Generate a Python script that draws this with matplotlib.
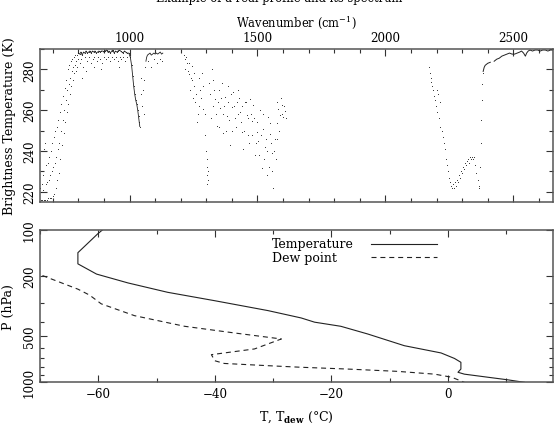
import matplotlib
matplotlib.use("Agg")
import matplotlib.pyplot as plt
from matplotlib.ticker import MultipleLocator, NullFormatter, FixedLocator

plt.rcParams['font.family'] = ['DejaVu Serif']
plt.rcParams['font.size'] = 9
plt.rcParams['mathtext.fontset'] = 'dejavuserif'

# ---- spectrum (brightness temperature vs wavenumber) ----
# CO2 band 650-800
wn_co2 = [650, 652, 654, 656, 658, 660, 662, 664, 666, 668, 670, 672, 674, 676, 678,
          680, 682, 684, 686, 688, 690, 692, 694, 696, 698, 700, 702, 704, 706, 708,
          710, 712, 714, 716, 718, 720, 722, 724, 726, 728, 730, 732, 734, 736, 738,
          740, 742, 744, 746, 748, 750, 752, 754, 756, 758, 760, 762, 764, 766, 768,
          770, 772, 774, 776, 778, 780, 782, 784, 786, 788, 790, 792, 794, 796, 798, 800]
tb_co2 = [222, 216, 220, 224, 216, 221, 228, 216, 241, 244, 216, 224, 233, 216, 225,
          234, 217, 226, 237, 217, 228, 240, 217, 230, 244, 218, 232, 247, 219, 234,
          250, 222, 237, 252, 226, 241, 255, 229, 244, 259, 236, 250, 263, 243, 255,
          267, 249, 260, 271, 254, 265, 275, 259, 270, 280, 263, 273, 282, 268, 276,
          284, 272, 279, 285, 275, 281, 286, 278, 282, 287, 279, 284, 287, 281, 285, 288]

# window + ozone band 800-1130 (continuous part)
wn_win = [800, 805, 810, 815, 820, 825, 830, 835, 840, 845, 850, 855, 860, 865, 870,
          875, 880, 885, 890, 895, 900, 905, 910, 915, 920, 925, 930, 935, 940, 945,
          950, 955, 960, 965, 970, 975, 980, 985, 990, 997, 1003, 1008, 1012, 1016,
          1020, 1024, 1028, 1032, 1035, 1038, 1040]
tb_win = [288, 287.5, 288.5, 287, 288.5, 288, 289, 288, 288.5, 289, 288, 289, 288.5,
          289, 288, 288.5, 289, 288.5, 289, 289, 288.5, 289, 289.5, 288.5, 289, 288,
          289, 289.5, 288, 289, 288.5, 289, 289.5, 289, 288.5, 288, 289, 288.5, 288,
          288, 286, 282, 277, 272, 268, 265, 263, 260, 257, 254, 252]
wn_o3b = [1064, 1067, 1070, 1075, 1080, 1085, 1090, 1095, 1100, 1105, 1110, 1115,
          1120, 1125, 1130]
tb_o3b = [284, 286, 287, 287.5, 288, 287, 287.5, 288, 287.5, 288, 287.5, 288, 288.5,
          287.5, 288]
# scattered window channels
wn_wdot = [805, 812, 815, 818, 826, 830, 832, 841, 848, 856, 860, 863, 871, 878, 886,
           890, 893, 901, 908, 916, 923, 931, 938, 946, 953, 960, 961, 968, 976, 983,
           991, 1043, 1046, 1049, 1052, 1055, 1058, 1061, 1072, 1083, 1094, 1106, 1118, 1127]
tb_wdot = [283, 285, 276, 281, 286, 279, 284, 286, 283, 285, 281, 286, 284, 286, 285,
           280, 283, 286, 285, 286, 284, 286, 285, 286, 284, 281, 286, 285, 286, 284,
           286, 268, 276, 262, 270, 258, 275, 281, 284, 281, 285, 283, 285, 284]

# water vapour band 1211-1614
wn_h2o = [1211, 1215, 1218, 1221, 1224, 1227, 1231, 1234, 1238, 1241, 1244, 1244, 1247,
          1250, 1253, 1257, 1260, 1263, 1267, 1270, 1273, 1276, 1280, 1283, 1286, 1289,
          1293, 1296, 1300, 1301, 1302, 1303, 1304, 1305, 1306, 1309, 1315, 1318, 1322,
          1325, 1328, 1331, 1335, 1338, 1341, 1344, 1348, 1351, 1354, 1357, 1361, 1364,
          1367, 1370, 1374, 1377, 1380, 1383, 1386, 1390, 1393, 1396, 1399, 1402, 1406,
          1409, 1412, 1415, 1419, 1422, 1425, 1428, 1432, 1435, 1438, 1441, 1445, 1448,
          1451, 1455, 1458, 1461, 1464, 1467, 1471, 1474, 1477, 1480, 1484, 1487, 1490,
          1493, 1497, 1500, 1503, 1506, 1510, 1513, 1516, 1520, 1523, 1526, 1529, 1533,
          1536, 1539, 1542, 1545, 1549, 1549, 1552, 1555, 1558, 1562, 1565, 1568, 1571,
          1575, 1575, 1578, 1581, 1584, 1588, 1591, 1594, 1597, 1601, 1604, 1607, 1610]
tb_h2o = [287, 285, 280, 286, 283, 279, 277.6, 283, 270, 276, 281.6, 275, 266,
          272, 278, 264, 268, 254, 258, 262, 276, 270, 266, 278, 272, 260.6,
          258, 247.7, 240, 236, 232, 228, 224, 226, 230, 273.5, 268, 256, 280,
          262, 275, 270, 265.5, 258, 252.5, 264, 270, 252, 261, 266, 273.5, 258,
          249, 262, 266.5, 250, 257, 264, 272, 255, 243, 268, 261.6, 250, 268.7,
          262, 256, 252, 263.9, 258, 270, 266, 259, 254, 249.5, 262, 241, 250,
          264, 264, 257.5, 256, 248, 244, 265.5, 258, 254.5, 248, 262.7, 256, 238,
          244, 249.5, 254, 245, 238, 260, 248, 231.6, 258, 251, 236, 241.8, 246,
          228.3, 240, 256.5, 232, 248.5, 253.5, 244, 238.8, 230, 222, 240, 246, 236,
          264, 253.5, 246, 260.6, 250, 257.5, 266, 262.7, 258, 256.5, 262, 259.4, 256]

# short-wave band 2171-2380 (dotted) and 2382-2655 (continuous)
wn_sw = [2171, 2174, 2177, 2180, 2184, 2187, 2190, 2193, 2197, 2200, 2203, 2206, 2209,
         2212, 2215, 2220, 2225, 2230, 2234, 2238, 2242, 2246, 2250, 2254, 2258, 2262,
         2265, 2268, 2272, 2276, 2280, 2284, 2288, 2292, 2296, 2300, 2304, 2308, 2312,
         2316, 2320, 2324, 2328, 2332, 2336, 2340, 2344, 2348, 2352, 2356, 2360, 2364,
         2367, 2370, 2372, 2374, 2376, 2378, 2380]
tb_sw = [281, 278, 276, 274, 272, 270, 267, 265, 262, 270, 259, 268, 256,
         264, 252, 250, 247, 244, 241, 236, 233, 230, 227, 225, 223, 222,
         224, 222, 225, 223, 226, 225, 228, 227, 230, 229, 232, 231, 234,
         233, 235, 236, 234, 237, 236, 237, 236, 237, 233, 229, 226, 223,
         222, 232, 244, 255, 265, 273, 278]
wn_swl = [2382, 2386, 2390, 2395, 2400, 2410]
tb_swl = [279, 281, 282, 282.5, 283, 283.5]
wn_swl2 = [2425, 2435, 2445, 2455, 2465, 2475, 2485, 2495, 2505, 2515, 2525, 2532,
           2540, 2547, 2552, 2558, 2565, 2575, 2585, 2595, 2605, 2615, 2625, 2635,
           2645, 2655]
tb_swl2 = [284, 285, 285.5, 286.5, 287, 287.5, 288, 287.5, 287.5, 288, 288.5, 289,
           288, 286.5, 288, 289, 289.5, 289, 289.5, 289.5, 289, 289.5, 289.5, 289,
           289.5, 289.5]

# ---- profile ----
p_temp = [100, 106, 141, 167, 195, 223, 257, 292, 339, 379, 404, 430, 483, 577,
          644, 700, 742, 822, 863, 888, 930, 967, 1005]
t_temp = [-59.3, -60.1, -63.5, -63.5, -60.3, -54.9, -48.1, -40.0, -30.9, -25.2,
          -22.9, -18.4, -13.8, -7.5, -1.2, 1.1, 2.2, 2.2, 1.7, 2.8, 6.8, 10.2, 13.1]
p_dew = [190, 245, 268, 306, 366, 430, 476, 521, 606, 661, 725, 755, 781, 800,
         822, 851, 888, 930, 1005]
t_dew = [-71.0, -63.5, -61.5, -59.5, -53.8, -45.2, -36.6, -28.6, -33.2, -40.6,
         -40.0, -38.4, -30.9, -25.2, -17.2, -8.7, -2.3, 0.6, 2.8]

fg = '#333333'
fig = plt.figure(figsize=(5.58, 4.27), dpi=100)
ax1 = fig.add_axes([40/558, 1-203/427, 513/558, 153/427])
ax2 = fig.add_axes([40/558, 1-383/427, 513/558, 152/427])

dot = dict(ls='none', marker='.', ms=1.3, mew=0, color='#222222')
ax1.plot(wn_co2, tb_co2, **dot)
ax1.plot(wn_win, tb_win, color='#222222', lw=0.6)
ax1.plot(wn_win, tb_win, **dot)
ax1.plot(wn_o3b, tb_o3b, color='#222222', lw=0.6)
ax1.plot(wn_wdot, tb_wdot, **dot)
ax1.plot(wn_h2o, tb_h2o, **dot)
ax1.plot(wn_sw, tb_sw, **dot)
ax1.plot(wn_swl, tb_swl, color='#222222', lw=0.7)
ax1.plot(wn_swl2, tb_swl2, color='#222222', lw=0.7)

ax1.set_xlim(650, 2655)
ax1.set_ylim(215, 290)
ax1.xaxis.set_label_position('top')
ax1.set_xlabel('Wavenumber (cm$^{-1}$)', labelpad=4, fontsize=8.3)
ax1.set_ylabel('Brightness Temperature (K)', labelpad=5)
ax1.xaxis.set_major_locator(MultipleLocator(500))
ax1.xaxis.set_minor_locator(MultipleLocator(100))
ax1.yaxis.set_major_locator(MultipleLocator(20))
ax1.yaxis.set_minor_locator(MultipleLocator(10))
ax1.tick_params(axis='x', which='both', top=True, bottom=True,
                labeltop=True, labelbottom=False)

ax2.plot(t_temp, p_temp, color='#222222', lw=0.8)
ax2.plot(t_dew, p_dew, color='#222222', lw=0.8, ls=(0, (4.5, 3.5)))
ax2.set_yscale('log')
ax2.set_ylim(1000, 100)
ax2.set_xlim(-70, 18)
ax2.yaxis.set_major_locator(FixedLocator([100, 200, 500, 1000]))
ax2.yaxis.set_minor_locator(FixedLocator([300, 400, 600, 700, 800, 900]))
ax2.yaxis.set_major_formatter(plt.FixedFormatter(['100', '200', '500', '1000']))
ax2.yaxis.set_minor_formatter(NullFormatter())
ax2.xaxis.set_major_locator(MultipleLocator(20))
ax2.xaxis.set_minor_locator(MultipleLocator(10))
ax2.set_xlabel(r'T, T$_{\mathbf{dew}}$ ($\degree$C)', labelpad=6)
ax2.set_ylabel('P (hPa)', labelpad=6)
ax2.tick_params(axis='x', which='both', top=True, bottom=True)

# key: label text on the left, line sample on the right
key_labels = ['Temperature', 'Dew point']
key_styles = ['-', (0, (4.5, 3.5))]
for i, (lab, st) in enumerate(zip(key_labels, key_styles)):
    yk = 0.908 - i * 0.086
    ax2.text(0.452, yk, lab, transform=ax2.transAxes, ha='left', va='center')
    ax2.plot([0.645, 0.774], [yk, yk], transform=ax2.transAxes,
             color='#222222', lw=0.8, ls=st)

for ax in (ax1, ax2):
    ax.tick_params(which='both', direction='in', left=True, right=True,
                   colors=fg, labelcolor='black', labelsize=8.6)
    ax.tick_params(which='major', length=5, width=0.8)
    ax.tick_params(which='minor', length=3, width=0.8)
    ax.tick_params(axis='y', labelrotation=90, pad=3)
    for lab in ax.get_yticklabels():
        lab.set_va('center')
    for s in ax.spines.values():
        s.set_color('#555555')
        s.set_linewidth(1.1)

fig.text(0.5, 1 - 2/427, 'Example of a real profile and its spectrum',
         ha='center', va='baseline', fontsize=8.3)

fig.savefig('out.png', dpi=100)
